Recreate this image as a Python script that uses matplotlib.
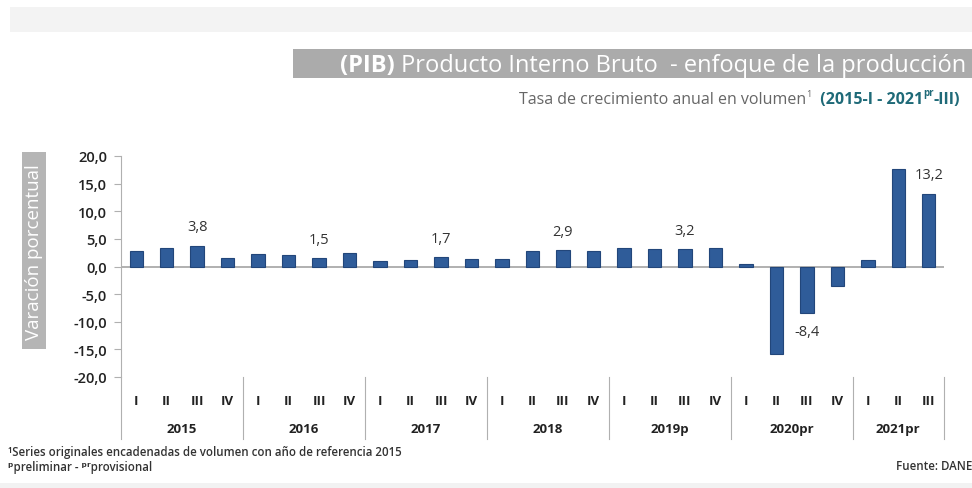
import matplotlib
matplotlib.use('Agg')
import matplotlib.pyplot as plt
from matplotlib.patches import Rectangle
import matplotlib.transforms as mtransforms

years = ['2015', '2016', '2017', '2018', '2019p', '2020pr', '2021pr']
quarters_per_year = [4, 4, 4, 4, 4, 4, 3]
quarter_names = ['I', 'II', 'III', 'IV']
values = [2.8, 3.3, 3.8, 1.6,
          2.2, 2.0, 1.5, 2.5,
          1.0, 1.2, 1.7, 1.4,
          1.4, 2.8, 2.9, 2.8,
          3.4, 3.1, 3.2, 3.3,
          0.5, -15.8, -8.4, -3.6,
          1.1, 17.6, 13.2]
labeled_idx = [2, 6, 10, 14, 18, 22, 26]
yticks = [20, 15, 10, 5, 0, -5, -10, -15, -20]

FONT = ['Open Sans', 'DejaVu Sans']
plt.rcParams['font.family'] = FONT

W, H = 972, 489
fig = plt.figure(figsize=(W / 100, H / 100), dpi=100)

def fx(px):
    return px / W

def fy(py):
    return 1 - py / H

# top light band
fig.patches.append(Rectangle((fx(10), fy(33)), fx(962), 25 / H, transform=fig.transFigure,
                             facecolor='#f3f3f3', edgecolor='none', zorder=0))
# bottom band
fig.patches.append(Rectangle((0, 0), 1, 5 / H, transform=fig.transFigure,
                             facecolor='#f2f2f2', edgecolor='none', zorder=0))
# title box
fig.patches.append(Rectangle((fx(293), fy(79)), 1 - fx(293), 29 / H, transform=fig.transFigure,
                             facecolor='#ababab', edgecolor='none', zorder=0))

renderer = fig.canvas.get_renderer()

def place_right(pieces, x_right_px, y_px):
    """pieces: list of (text, kwargs, dy_px). Right aligned sequence on a baseline."""
    objs = []
    for txt, kw, dy in pieces:
        t = fig.text(0, 0, txt, transform=fig.transFigure, ha='left', va='baseline', **kw)
        objs.append((t, dy))
    widths = [t.get_window_extent(renderer).width for t, _ in objs]
    x = x_right_px - sum(widths)
    for (t, dy), w in zip(objs, widths):
        t.set_position((fx(x), fy(y_px - dy)))
        x += w

# title
place_right([('(PIB)', dict(fontsize=17, color='white', fontweight='bold'), 0),
             (' Producto Interno Bruto  - enfoque de la producción',
              dict(fontsize=17, color='white'), 0)], 966, 72)

# subtitle
teal = '#1f6a78'
place_right([('Tasa de crecimiento anual en volumen', dict(fontsize=11.5, color='#666666'), 0),
             ('1', dict(fontsize=6.5, color='#666666'), 7),
             ('  (2015-I - 2021', dict(fontsize=11.5, color=teal, fontweight='bold'), 0),
             ('pr', dict(fontsize=7, color=teal, fontweight='bold'), 8),
             ('-III)', dict(fontsize=11.5, color=teal, fontweight='bold'), 0)], 960, 104)

# y label box
fig.patches.append(Rectangle((fx(22), fy(350)), 24 / W, 197 / H, transform=fig.transFigure,
                             facecolor='#b5b5b5', edgecolor='none', zorder=0))
fig.text(fx(34.5), fy(252), 'Varación porcentual', rotation=90, ha='center', va='center',
         color='white', fontsize=13.5)

# axes
ax_left, ax_right = 121, 944
ax_top, ax_bot = 157, 378
ax = fig.add_axes([fx(ax_left), fy(ax_bot), (ax_right - ax_left) / W, (ax_bot - ax_top) / H])
ax.set_facecolor('none')

x = list(range(len(values)))
ax.bar(x, values, width=0.44, color='#2f5c99', edgecolor='#22467a', linewidth=0.8, zorder=3)
ax.axhline(0, color='#b0b0b0', linewidth=1.4, zorder=2)

ax.set_xlim(-0.5, len(values) - 0.5)
ax.set_ylim(-20, 20)
ax.set_yticks(yticks)
ax.set_yticklabels([f'{v:.1f}'.replace('.', ',') for v in yticks])
ax.tick_params(axis='y', length=5, width=0.8, color='#b0b0b0', labelsize=10.5,
               labelcolor='#222222', pad=5)
for lab in ax.get_yticklabels():
    lab.set_fontweight('semibold')
for s in ['top', 'right', 'bottom']:
    ax.spines[s].set_visible(False)
ax.spines['left'].set_color('#b0b0b0')
ax.spines['left'].set_linewidth(0.8)

# quarter labels
qlabels = []
for n in quarters_per_year:
    qlabels += quarter_names[:n]
ax.set_xticks(x)
ax.set_xticklabels(qlabels)
ax.tick_params(axis='x', length=0, pad=12, labelsize=9.5, labelcolor='#222222')
for lab in ax.get_xticklabels():
    lab.set_fontweight('bold')

# year labels & separators
trans = mtransforms.blended_transform_factory(ax.transData, ax.transAxes)
start = 0
sep_bottom = -(440 - ax_bot) / (ax_bot - ax_top)
year_y = -(430 - ax_bot) / (ax_bot - ax_top)
bounds = [-0.5]
for yr, n in zip(years, quarters_per_year):
    center = start + (n - 1) / 2
    ax.text(center, year_y, yr, transform=trans, ha='center', va='center', fontsize=9.5,
            fontweight='bold', color='#222222')
    start += n
    bounds.append(start - 0.5)
for b in bounds:
    ax.plot([b, b], [0, sep_bottom], transform=trans, color='#b0b0b0', linewidth=0.8,
            clip_on=False)

# value labels
for i in labeled_idx:
    v = values[i]
    txt = f'{v:.1f}'.replace('.', ',')
    if v >= 0:
        ax.annotate(txt, (i, v), xytext=(0, 8), textcoords='offset points', ha='center',
                    va='bottom', fontsize=10.5, color='#333333')
    else:
        ax.annotate(txt, (i, v), xytext=(0, -8), textcoords='offset points', ha='center',
                    va='top', fontsize=10.5, color='#333333')

# footnotes
fig.text(fx(8), fy(456), '¹Series originales encadenadas de volumen con año de referencia 2015',
         fontsize=8.3, color='#333333', fontweight='semibold', ha='left', va='baseline')
fig.text(fx(8), fy(471), 'ᵖpreliminar - ᵖʳprovisional',
         fontsize=8.3, color='#333333', fontweight='semibold', ha='left', va='baseline')
fig.text(fx(896), fy(470), 'Fuente: DANE', fontsize=8.3, color='#333333',
         fontweight='semibold', ha='left', va='baseline')

fig.savefig('out.png', dpi=100)
